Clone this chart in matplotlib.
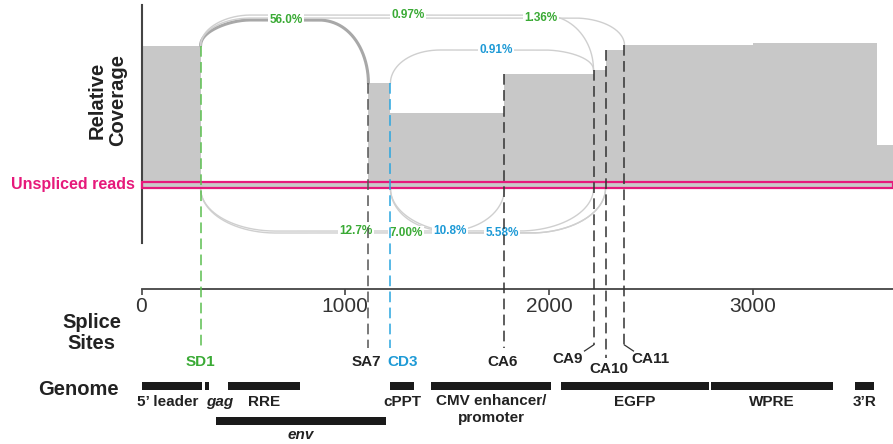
import numpy as np
import matplotlib
matplotlib.use("Agg")
import matplotlib.pyplot as plt
from matplotlib.patches import Rectangle

plt.rcParams['font.family'] = ['Liberation Sans', 'DejaVu Sans']

# ---------------- data ----------------
site_names = ['SD1', 'SA7', 'CD3', 'CA6', 'CA9', 'CA10', 'CA11']
site_pos = [290, 1114, 1222, 1782, 2219, 2278, 2371]

cov_starts = [0, 290, 1114, 1222, 1782, 2219, 2278, 2371, 3000, 3613]
cov_levels = [0.95, 0.045, 0.70, 0.50, 0.765, 0.79, 0.925, 0.955, 0.97, 0.29]
cov_end = 3690
unspliced_level = 0.045

arc_from = ['SD1', 'SD1', 'SD1', 'CD3', 'SD1', 'SD1', 'CD3', 'CD3']
arc_to = ['SA7', 'CA9', 'CA11', 'CA9', 'CA9', 'CA10', 'CA6', 'CA10']
arc_side = ['top', 'top', 'top', 'top', 'bottom', 'bottom', 'bottom', 'bottom']
arc_pct = ['56.0%', '0.97%', '1.36%', '0.91%', '12.7%', '7.00%', '10.8%', '5.58%']
arc_height = [1.122, 1.155, 1.135, 0.922, -0.285, -0.298, -0.285, -0.298]
arc_label_x = [709, 1308, 1961, 1740, 1053, 1298, 1514, 1770]

genome_names = ['5’ leader', 'gag', 'RRE', 'env', 'cPPT',
                'CMV enhancer/\npromoter', 'EGFP', 'WPRE', '3’R']
genome_start = [0, 312, 426, 366, 1220, 1421, 2058, 2796, 3502]
genome_end = [298, 333, 778, 1200, 1339, 2010, 2784, 3394, 3597]
genome_row = [0, 0, 0, 1, 0, 0, 0, 0, 0]

xticks = [0, 1000, 2000, 3000]

# ---------------- layout / style ----------------
W, H = 893, 444
X0_PX = 141.5
PX_PER_X = 0.2037
BASE_PX = 188.3
PX_PER_UNIT = 150.0
XMAX = (W - X0_PX) / PX_PER_X

GREEN = '#3aaa35'
BLUE = '#1e9ad6'
PINK = '#e6197b'
site_color = {'SD1': '#5bbf4f', 'CD3': '#2aa5df', 'SA7': '#555555'}
site_text_color = {'SD1': GREEN, 'CD3': BLUE}
site_label_dx = {'SD1': 0, 'SA7': -2, 'CD3': 12, 'CA6': -2, 'CA9': -26, 'CA10': 3, 'CA11': 26}
site_label_base = {'CA9': 363, 'CA10': 373, 'CA11': 363}
genome_label_dx = {'5’ leader': -4, 'gag': 12}

def cov_px(level):
    return BASE_PX - PX_PER_UNIT * level

def cov_at(x):
    lvl = cov_levels[0]
    for s, l in zip(cov_starts, cov_levels):
        if x >= s:
            lvl = l
    return lvl

fig = plt.figure(figsize=(W / 100, H / 100), dpi=100)

# coverage axes
ax = fig.add_axes([X0_PX / W, 1 - 243 / H, 1 - X0_PX / W, (243 - 5) / H])
ax.set_xlim(0, XMAX)
ax.set_ylim(-(243 - BASE_PX) / PX_PER_UNIT, (BASE_PX - 5) / PX_PER_UNIT)
for s in ['top', 'right', 'bottom']:
    ax.spines[s].set_visible(False)
ax.spines['left'].set_color('#444444')
ax.spines['left'].set_linewidth(1.5)
ax.set_xticks([])
ax.set_yticks([])
ax.patch.set_alpha(0)

xs = np.array(cov_starts + [cov_end], dtype=float)
ys = np.array(cov_levels + [cov_levels[-1]])
ax.fill_between(xs, 0, ys, step='post', color='#c8c8c8', lw=0, zorder=1)
ax.add_patch(Rectangle((0, 0), cov_end, unspliced_level, fill=False,
                       ec=PINK, lw=1.6, zorder=3, clip_on=False))

pos = dict(zip(site_names, site_pos))

def arc_curve(x0, x1, y0, y1, peak, R, p=2.0, n=3000):
    x = np.linspace(x0, x1, n)
    d = np.minimum(x - x0, x1 - x)
    Rr = min(R, (x1 - x0) / 2)
    t = np.clip(d / Rr, 0, 1)
    g = (1 - (1 - t) ** p) ** (1 / p)
    base = y0 + (y1 - y0) * (x - x0) / (x1 - x0)
    return x, base + (peak - base) * g

for f, t, side, pct, h, lx in zip(arc_from, arc_to, arc_side, arc_pct, arc_height, arc_label_x):
    x0, x1 = pos[f], pos[t]
    if side == 'top':
        y0 = cov_at(x0 - 1)
        y1 = cov_at(x1 + 1)
        R = 50 / PX_PER_X
    else:
        y0 = y1 = 0.0
        R = 75 / PX_PER_X
    x, y = arc_curve(x0, x1, y0, y1, h, R)
    if pct == '56.0%':
        ax.plot(x, y, color='#a8a8a8', lw=2.2, zorder=2, solid_capstyle='round')
    else:
        ax.plot(x, y, color='#cfcfcf', lw=1.0, zorder=2)
    col = GREEN if f == 'SD1' else BLUE
    ax.text(lx, h, pct, ha='center', va='center', fontsize=8.5, fontweight='bold',
            color=col, zorder=4,
            bbox=dict(boxstyle='square,pad=0.1', fc='white', ec='none'))

# x axis
axx = fig.add_axes([X0_PX / W, 1 - 289 / H, 1 - X0_PX / W, 1 / H])
axx.set_xlim(0, XMAX)
for s in ['top', 'right', 'left']:
    axx.spines[s].set_visible(False)
axx.spines['bottom'].set_color('#444444')
axx.spines['bottom'].set_linewidth(1.3)
axx.set_yticks([])
axx.set_xticks(xticks)
axx.set_xticklabels([str(v) for v in xticks])
axx.tick_params(axis='x', direction='out', length=4, width=1.2, color='#444444',
                labelsize=15, labelcolor='#333333', pad=2)
axx.patch.set_alpha(0)

# overlay axes in pixel y
ov = fig.add_axes([0, 0, 1, 1])
ov.set_xlim(-X0_PX / PX_PER_X, XMAX)
ov.set_ylim(H, 0)
ov.axis('off')
ov.patch.set_alpha(0)

for name, x in zip(site_names, site_pos):
    lvl = max(cov_at(x - 1), cov_at(x + 1))
    ytop = cov_px(lvl)
    col = site_color.get(name, '#333333')
    dx = 1 / PX_PER_X
    if name in ('CA9', 'CA11'):
        ybot = 345
    elif name == 'CA10':
        ybot = 358
    else:
        ybot = 348
    ov.plot([x, x], [ytop, ybot], color=col, lw=1.1, ls=(0, (7, 3.5)), zorder=5)
    if name == 'CA9':
        ov.plot([x, x - 9 * dx], [ybot, ybot + 6], color=col, lw=0.9, zorder=5)
    if name == 'CA11':
        ov.plot([x, x + 9 * dx], [ybot, ybot + 6], color=col, lw=0.9, zorder=5)
    lx = x + site_label_dx[name] * dx
    ov.text(lx, site_label_base.get(name, 366), name, ha='center', va='baseline',
            fontsize=11, fontweight='bold', color=site_text_color.get(name, '#222222'))

# genome blocks
for name, s, e, r in zip(genome_names, genome_start, genome_end, genome_row):
    yc = 386 if r == 0 else 421
    ov.add_patch(Rectangle((s, yc - 4.2), e - s, 8.4, fc='#1a1a1a', ec='none'))
    cx = (s + e) / 2 + genome_label_dx.get(name, 0) / PX_PER_X
    style = 'italic' if name in ('gag', 'env') else 'normal'
    base = 406 if r == 0 else 439
    if '\n' in name:
        ov.text(cx, 394, name, ha='center', va='top', fontsize=11, fontweight='bold',
                color='#222222', linespacing=1.25)
    else:
        ov.text(cx, base, name, ha='center', va='baseline', fontsize=11,
                fontweight='bold', style=style, color='#222222')

# left labels
def px2x(px):
    return (px - X0_PX) / PX_PER_X

ov.text(px2x(107), 100, 'Relative\nCoverage', rotation=90, ha='center', va='center',
        fontsize=14.5, fontweight='bold', color='#222222', linespacing=1.1)
ov.text(px2x(91.5), 333, 'Splice\nSites', ha='center', va='center',
        fontsize=14.5, fontweight='bold', color='#222222', linespacing=1.1)
ov.text(px2x(78), 395, 'Genome', ha='center', va='baseline',
        fontsize=14.5, fontweight='bold', color='#222222')
ov.text(px2x(135), 184, 'Unspliced reads', ha='right', va='center',
        fontsize=11.5, fontweight='bold', color=PINK)

fig.savefig('out.png', dpi=100)
